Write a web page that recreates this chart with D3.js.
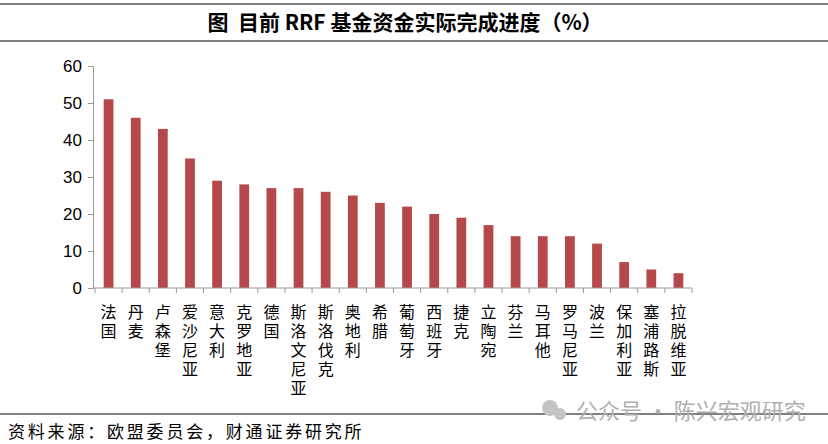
<!DOCTYPE html>
<html>
<head>
<meta charset="utf-8">
<script src="https://cdn.jsdelivr.net/npm/d3@7"></script>
<style>
  body { margin: 0; background: #fff; }
  svg { display: block; }
</style>
</head>
<body>
<div id="chart"></div>
<script>
const countries = ['法国', '丹麦', '卢森堡', '爱沙尼亚', '意大利', '克罗地亚', '德国', '斯洛文尼亚', '斯洛伐克', '奥地利', '希腊',
  '葡萄牙', '西班牙', '捷克', '立陶宛', '芬兰', '马耳他', '罗马尼亚', '波兰', '保加利亚', '塞浦路斯', '拉脱维亚'];
const progress = [51, 46, 43, 35, 29, 28, 27, 27, 26, 25, 23, 22, 20, 19, 17, 14, 14, 14, 12, 7, 5, 4];
const yTicks = [0, 10, 20, 30, 40, 50, 60];

const width = 828, height = 444;
const cjk = '"Noto Sans CJK SC", sans-serif';

const svg = d3.select('#chart').append('svg')
  .attr('width', width)
  .attr('height', height);

// title band
svg.append('line').attr('x1', 0).attr('x2', width).attr('y1', 4).attr('y2', 4)
  .attr('stroke', '#7f7f7f').attr('stroke-width', 2);
svg.append('line').attr('x1', 0).attr('x2', width).attr('y1', 41).attr('y2', 41)
  .attr('stroke', '#7f7f7f').attr('stroke-width', 2);
svg.append('text')
  .attr('x', 405).attr('y', 30)
  .attr('text-anchor', 'middle')
  .attr('xml:space', 'preserve')
  .style('white-space', 'pre')
  .style('font-family', cjk)
  .style('font-size', '21px')
  .style('font-weight', 'bold')
  .style('fill', '#000')
  .text('图  目前 RRF 基金资金实际完成进度（%）');

const x = d3.scaleBand()
  .domain(countries)
  .range([95, 692])
  .paddingInner(0.64)
  .paddingOuter(0.32);

const y = d3.scaleLinear()
  .domain([0, 60])
  .range([288, 66]);

svg.append('g')
  .selectAll('rect')
  .data(progress)
  .enter()
  .append('rect')
  .attr('x', (d, i) => x(countries[i]))
  .attr('y', d => y(d))
  .attr('width', x.bandwidth())
  .attr('height', d => y(0) - y(d))
  .attr('fill', '#b5484a');

// y axis
const yAxis = svg.append('g')
  .attr('transform', 'translate(93,0)')
  .call(d3.axisLeft(y).tickValues(yTicks).tickSize(5).tickPadding(6));
yAxis.select('.domain').attr('stroke', '#999');
yAxis.selectAll('.tick line').attr('stroke', '#999');
yAxis.selectAll('.tick text')
  .style('font-family', '"Liberation Sans", Arial, sans-serif')
  .style('font-size', '17px')
  .style('fill', '#000');

// x axis
const xAxis = svg.append('g')
  .attr('transform', `translate(0,${y(0)})`)
  .call(d3.axisBottom(x).tickSize(0).tickFormat(''));
xAxis.select('.domain').attr('stroke', '#999').attr('d', `M93,0H692`);
xAxis.selectAll('.sep')
  .data(d3.range(countries.length + 1))
  .enter()
  .append('line')
  .attr('x1', i => 95 + i * x.step())
  .attr('x2', i => 95 + i * x.step())
  .attr('y1', 0).attr('y2', 5)
  .attr('stroke', '#999');

// vertical category labels
svg.append('g')
  .selectAll('text')
  .data(countries)
  .enter()
  .append('text')
  .attr('x', d => x(d) + x.bandwidth() / 2)
  .attr('y', 304)
  .style('writing-mode', 'vertical-rl')
  .style('font-family', cjk)
  .style('font-size', '16px')
  .style('letter-spacing', '3px')
  .style('fill', '#000')
  .text(d => d);

// footer
svg.append('line').attr('x1', 0).attr('x2', width).attr('y1', 414).attr('y2', 414)
  .attr('stroke', '#000').attr('stroke-width', 1);
svg.append('text')
  .attr('x', 8).attr('y', 438)
  .style('font-family', cjk)
  .style('font-size', '17px')
  .style('letter-spacing', '2.8px')
  .style('fill', '#000')
  .text('资料来源：欧盟委员会，财通证券研究所');

// watermark
svg.append('text')
  .attr('x', 576).attr('y', 419)
  .style('font-family', cjk)
  .style('font-size', '22px')
  .style('fill', '#b0b0b0')
  .text('公众号 · 陈兴宏观研究');
svg.append('circle').attr('cx', 550).attr('cy', 408).attr('r', 8).attr('fill', '#c4c4c4');
svg.append('circle').attr('cx', 560).attr('cy', 414).attr('r', 6).attr('fill', '#c4c4c4');
</script>
</body>
</html>
